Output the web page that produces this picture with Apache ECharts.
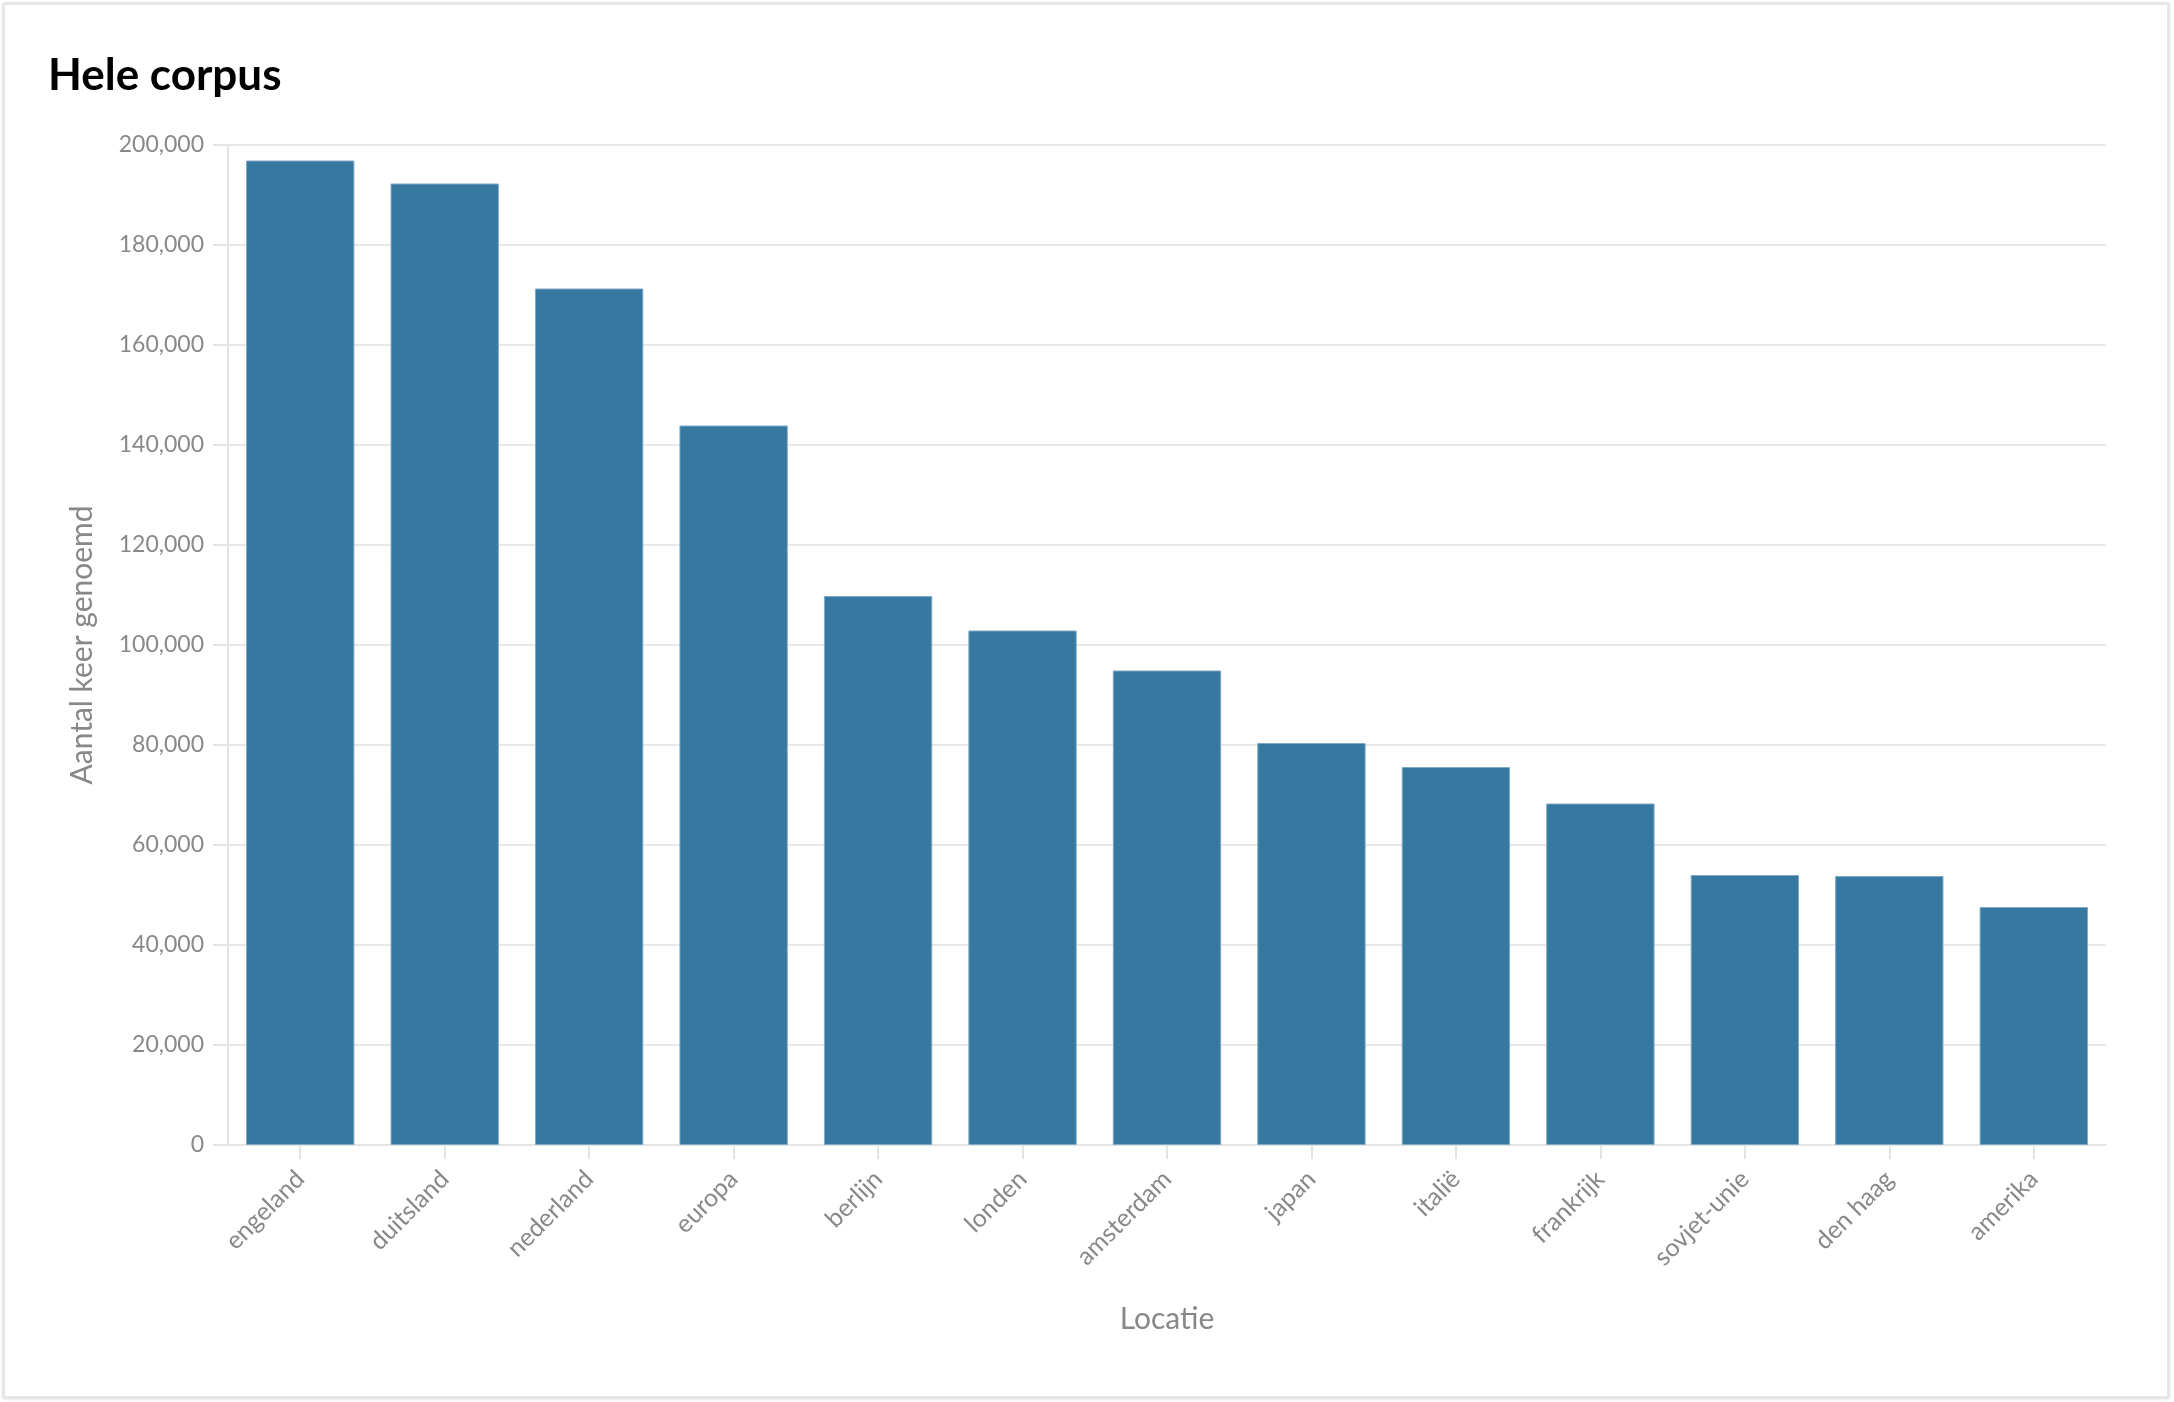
<!DOCTYPE html>
<html>
<head>
<meta charset="utf-8">
<script src="https://cdn.jsdelivr.net/npm/echarts@6/dist/echarts.min.js"></script>
<style>
  html, body { margin: 0; padding: 0; background: #ffffff; }
  #card { position: absolute; left: 2px; top: 2px; width: 2162px; height: 1391px;
          border: 3px solid #e6e6e6; border-radius: 3px; box-shadow: 0 1px 3px rgba(0,0,0,0.08); }
  #chart { position: absolute; left: 0; top: 0; width: 2174px; height: 1402px; }
</style>
</head>
<body>
<div id="card"></div>
<div id="chart"></div>
<script>
const titleText = 'Hele corpus';
const xAxisTitle = 'Locatie';
const yAxisTitle = 'Aantal keer genoemd';
const categories = ['engeland', 'duitsland', 'nederland', 'europa', 'berlijn', 'londen', 'amsterdam', 'japan', 'italië', 'frankrijk', 'sovjet-unie', 'den haag', 'amerika'];
const counts = [196900, 192300, 171300, 143900, 109800, 102900, 94900, 80400, 75600, 68300, 54000, 53800, 47600];
const yMin = 0, yMax = 200000, yStep = 20000;

const FONT = 'Lato, "Noto Sans", sans-serif';
const chart = echarts.init(document.getElementById('chart'), null, { renderer: 'canvas' });
chart.setOption({
  animation: false,
  backgroundColor: 'transparent',
  title: {
    text: titleText,
    left: 43, top: 49,
    textStyle: { fontFamily: FONT, fontWeight: 'bold', fontSize: 44, color: '#000' }
  },
  grid: { left: 228, right: 68, top: 145, bottom: 257, containLabel: false },
  xAxis: {
    type: 'category',
    data: categories,
    name: xAxisTitle,
    nameLocation: 'middle',
    nameGap: 159,
    nameTextStyle: { fontFamily: FONT, fontSize: 30, color: '#888' },
    axisLine: { show: true, lineStyle: { color: '#e4e4e4', width: 2 } },
    axisTick: { show: true, alignWithLabel: true, length: 14, lineStyle: { color: '#e4e4e4', width: 2 } },
    axisLabel: { rotate: 45, margin: 30, fontFamily: FONT, fontSize: 25, color: '#888', interval: 0 },
    splitLine: { show: false }
  },
  yAxis: {
    type: 'value',
    min: yMin, max: yMax, interval: yStep,
    name: yAxisTitle,
    nameLocation: 'middle',
    nameGap: 131,
    nameRotate: 90,
    nameTextStyle: { fontFamily: FONT, fontSize: 30, color: '#888' },
    axisLine: { show: true, lineStyle: { color: '#e4e4e4', width: 2 } },
    axisTick: { show: true, length: 15, lineStyle: { color: '#e4e4e4', width: 2 } },
    axisLabel: {
      margin: 24, fontFamily: FONT, fontSize: 23, color: '#888',
      formatter: v => v.toLocaleString('en-US')
    },
    splitLine: { show: true, lineStyle: { color: '#e8e8e8', width: 2 } }
  },
  series: [{
    type: 'bar',
    data: counts,
    barCategoryGap: '25%',
    itemStyle: { color: '#3678a0', borderColor: '#7ea9c6', borderWidth: 1 }
  }]
});
</script>
</body>
</html>
